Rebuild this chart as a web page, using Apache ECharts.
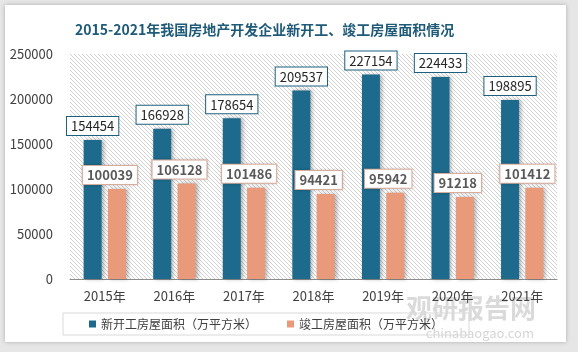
<!DOCTYPE html>
<html lang="zh">
  <head>
    <meta charset="UTF-8" />
    <title>房屋面积情况</title>
    <script src="https://cdn.jsdelivr.net/npm/echarts@6.0.0/dist/echarts.min.js"></script>
    <style>
      body { margin: 0; background: #e6e6e6; }
      #card { position: absolute; left: 5px; top: 5px; width: 561px; height: 337px; background: #fff; box-shadow: 0 0 4px rgba(0,0,0,0.25); }
      #main { position: absolute; left: 0; top: 0; width: 578px; height: 352px; }
    </style>
  </head>
  <body>
    <div id="card"></div>
    <div id="main"></div>
    <script>
      const years = ["2015年", "2016年", "2017年", "2018年", "2019年", "2020年", "2021年"];
      const newStarts = [154454, 166928, 178654, 209537, 227154, 224433, 198895];
      const completed = [100039, 106128, 101486, 94421, 95942, 91218, 101412];
      const seriesNames = ["新开工房屋面积（万平方米）", "竣工房屋面积（万平方米）"];

      // diagonal hatch for the plot background
      function hatch() {
        let c = document.createElement("canvas");
        c.width = 4;
        c.height = 4;
        let ctx = c.getContext("2d");
        ctx.fillStyle = "#fff";
        ctx.fillRect(0, 0, 4, 4);
        ctx.fillStyle = "#d2d2d2";
        for (let x = 0; x < 4; x++) {
          for (let y = 0; y < 4; y++) {
            if ((x - y + 4) % 4 === 0) ctx.fillRect(x, y, 1, 1);
          }
        }
        return c;
      }

      let myChart = echarts.init(document.getElementById("main"));
      let font = "'Noto Sans CJK SC', 'Noto Sans', sans-serif";

      myChart.setOption({
        textStyle: { fontFamily: font },
        title: {
          text: "2015-2021年我国房地产开发企业新开工、竣工房屋面积情况",
          left: 70,
          top: 18,
          textStyle: { fontSize: 14, fontWeight: "bold", color: "#1f5a78", fontFamily: font },
        },
        grid: {
          left: 70,
          right: 21,
          top: 54,
          bottom: 73,
          show: true,
          borderWidth: 0,
          backgroundColor: { image: hatch(), repeat: "repeat" },
        },
        legend: {
          left: 63,
          top: 313,
          itemWidth: 7,
          itemHeight: 7,
          itemGap: 30,
          padding: [5, 26],
          borderColor: "#d9d9d9",
          borderWidth: 1,
          icon: "rect",
          textStyle: { fontSize: 12, color: "#404040" },
          data: seriesNames,
        },
        xAxis: {
          type: "category",
          data: years,
          axisLine: { lineStyle: { color: "#8c8c8c" } },
          axisTick: { show: false },
          axisLabel: { fontSize: 13, color: "#404040", margin: 11 },
        },
        yAxis: {
          type: "value",
          min: 0,
          max: 250000,
          interval: 50000,
          splitLine: { show: false },
          axisLabel: { fontSize: 13, color: "#404040", margin: 17, formatter: (v) => String(v) },
        },
        graphic: [
          {
            type: "text",
            right: 42,
            top: 295,
            style: { text: "观研报告网", fontSize: 26, fontWeight: "bold", fill: "rgba(150,150,150,0.35)", fontFamily: font },
          },
          {
            type: "text",
            right: 44,
            top: 327,
            style: { text: "chinabaogao.com", fontSize: 13, fill: "rgba(150,150,150,0.4)", fontFamily: font },
          },
        ],
        series: [
          {
            name: seriesNames[0],
            type: "bar",
            data: newStarts,
            barWidth: 18,
            barGap: "35%",
            itemStyle: {
              color: "#1d6a8c",
              shadowColor: "rgba(0,0,0,0.3)",
              shadowBlur: 4,
              shadowOffsetX: 2,
            },
            label: {
              show: true,
              position: "top",
              distance: 5,
              fontSize: 13,
              color: "#262626",
              backgroundColor: "#fff",
              borderColor: "#1d5f7c",
              borderWidth: 1,
              padding: [3, 4, 2, 4],
            },
          },
          {
            name: seriesNames[1],
            type: "bar",
            data: completed,
            barWidth: 18,
            itemStyle: {
              color: "#e89a7b",
              shadowColor: "rgba(0,0,0,0.3)",
              shadowBlur: 4,
              shadowOffsetX: 2,
            },
            label: {
              show: true,
              position: "top",
              distance: 5,
              offset: [-7, 0],
              fontSize: 13,
              fontWeight: "bold",
              color: "#595959",
              backgroundColor: "#fff",
              borderColor: "#e3b5a3",
              borderWidth: 1,
              padding: [3, 4, 2, 4],
              shadowColor: "rgba(0,0,0,0.2)",
              shadowBlur: 3,
            },
          },
        ],
      });
    </script>
  </body>
</html>
